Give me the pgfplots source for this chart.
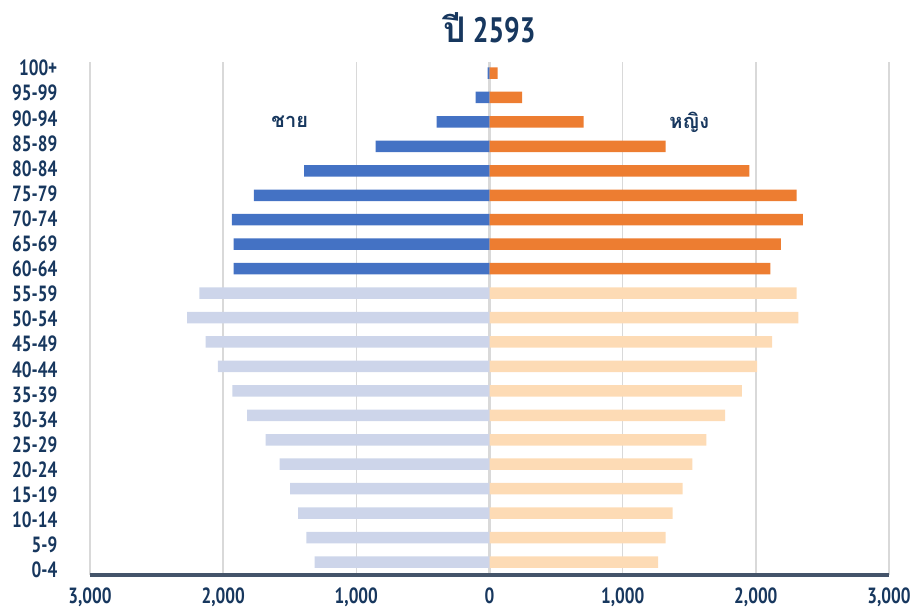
\documentclass[border=0pt]{standalone}
\usepackage{fontspec}
\setmainfont{PT Sans}[FakeStretch=0.78]
\newfontfamily\thaifont[Script=Thai]{Loma}
\usepackage{pgfplots}
\pgfplotsset{compat=1.18}
\definecolor{navy}{HTML}{17375E}
\definecolor{mold}{HTML}{4472C4}
\definecolor{myoung}{HTML}{CDD5EA}
\definecolor{fold}{HTML}{ED7D31}
\definecolor{fyoung}{HTML}{FDDBB5}
\definecolor{gridc}{HTML}{D9D9D9}
\definecolor{basec}{HTML}{44546A}
\begin{document}
\begin{tikzpicture}
\useasboundingbox (-67.5pt,-24.75pt) rectangle (617.25pt,431.25pt);
\begin{axis}[
    scale only axis,
    width=599.25pt, height=384.75pt,
    xbar, bar shift=0pt, bar width=0.47,
    xmin=-3000, xmax=3000,
    ymin=-0.53, ymax=20.45,
    xtick={-3000,-2000,-1000,0,1000,2000,3000},
    xticklabels={3{,}000,2{,}000,1{,}000,0,1{,}000,2{,}000,3{,}000},
    % category labels sit on a slightly wider spacing than the bars, as in the original
    ytick={-0.33,0.697,1.723,2.750,3.776,4.803,5.829,6.856,7.882,8.909,9.935,10.962,11.988,13.015,14.041,15.068,16.094,17.121,18.147,19.174,20.20},
    yticklabels={0-4,5-9,10-14,15-19,20-24,25-29,30-34,35-39,40-44,45-49,50-54,55-59,60-64,65-69,70-74,75-79,80-84,85-89,90-94,95-99,100+},
    major tick length=0pt,
    tick label style={font=\bfseries\fontsize{16.5}{18}\selectfont, text=navy},
    yticklabel style={xshift=-21pt},
    xticklabel style={yshift=-6pt},
    xmajorgrids, ymajorgrids=false,
    grid style={gridc, line width=1.1pt},
    axis line style={draw=none},
    extra x ticks={0}, extra x tick labels={},
    extra x tick style={grid style={gridc, line width=2pt}},
    title={\bfseries\fontsize{26.5}{29}\selectfont\color{navy}{\thaifont\bfseries ปี} 2593},
    title style={yshift=5pt},
    clip=false,
    after end axis/.code={
      \draw[basec, line width=2.4pt] (rel axis cs:0,0) -- (rel axis cs:1,0);
    },
]
% male 60+
\addplot[draw=none, fill=mold] coordinates {
 (-1921,12) (-1921,13) (-1934,14) (-1769,15) (-1393,16) (-856,17) (-397,18) (-105,19) (-15,20)};
% male under 60
\addplot[draw=none, fill=myoung] coordinates {
 (-1314,0) (-1376,1) (-1437,2) (-1498,3) (-1576,4) (-1681,5) (-1821,6) (-1930,7) (-2039,8) (-2131,9) (-2271,10) (-2179,11)};
% female 60+
\addplot[draw=none, fill=fold] coordinates {
 (2109,12) (2188,13) (2354,14) (2306,15) (1952,16) (1323,17) (707,18) (245,19) (61,20)};
% female under 60
\addplot[draw=none, fill=fyoung] coordinates {
 (1266,0) (1323,1) (1376,2) (1450,3) (1524,4) (1629,5) (1769,6) (1895,7) (2009,8) (2122,9) (2319,10) (2306,11)};
\node[font=\thaifont\bfseries\fontsize{15}{17}\selectfont, text=navy] at (axis cs:-1500,18.0) {ชาย};
\node[font=\thaifont\bfseries\fontsize{15}{17}\selectfont, text=navy] at (axis cs:1500,18.0) {หญิง};
\end{axis}
\end{tikzpicture}
\end{document}
